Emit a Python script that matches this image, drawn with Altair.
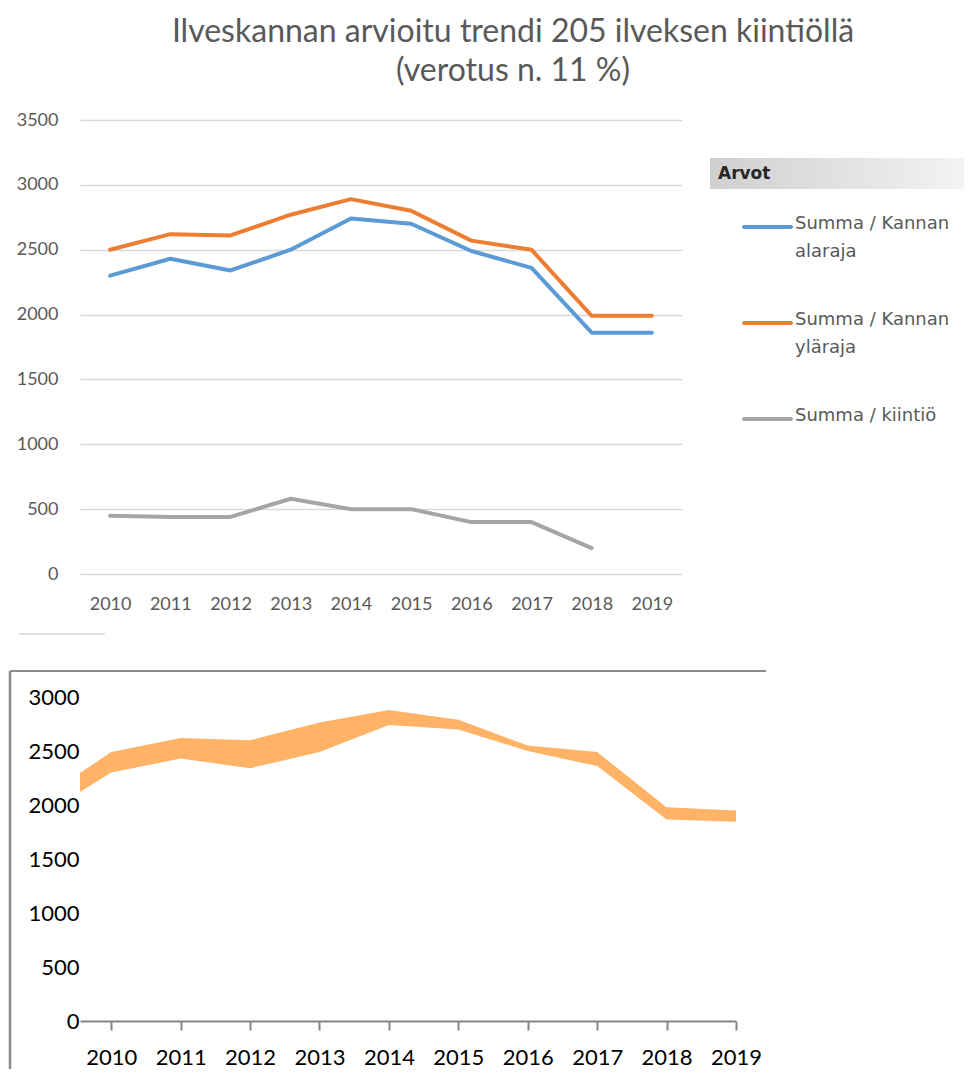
import altair as alt
import pandas as pd

# ---------------- data ----------------
years = [2010, 2011, 2012, 2013, 2014, 2015, 2016, 2017, 2018, 2019]
alaraja = [2300, 2430, 2340, 2500, 2740, 2700, 2490, 2360, 1860, 1860]
ylaraja = [2500, 2620, 2610, 2770, 2890, 2800, 2570, 2500, 1990, 1990]
kiintio = [450, 440, 440, 580, 500, 500, 400, 400, 200, None]

series_names = ["Summa / Kannan alaraja", "Summa / Kannan yläraja", "Summa / kiintiö"]
legend_labels = ["Summa / Kannan\nalaraja", "Summa / Kannan\nyläraja", "Summa / kiintiö"]
series_colors = ["#5B9BD5", "#ED7D31", "#A5A5A5"]

band_years = [2009, 2010, 2011, 2012, 2013, 2014, 2015, 2016, 2017, 2018, 2019]
band_upper = [2060, 2490, 2620, 2600, 2765, 2880, 2790, 2550, 2490, 1980, 1950]
band_lower = [1900, 2300, 2430, 2340, 2490, 2740, 2700, 2500, 2360, 1865, 1845]

title_lines = ["Ilveskannan arvioitu trendi 205 ilveksen kiintiöllä", "(verotus n. 11 %)"]
legend_title = "Arvot"

# ---------------- tables ----------------
rows = []
for name, vals in zip(series_names, [alaraja, ylaraja, kiintio]):
    for y, v in zip(years, vals):
        if v is not None:
            rows.append({"year": y, "series": name, "value": v})
lines_df = pd.DataFrame(rows)
legend_df = pd.DataFrame({"series": series_names, "label": legend_labels})
header_df = pd.DataFrame({"h": [legend_title]})
band_df = pd.DataFrame({"year": band_years, "upper": band_upper, "lower": band_lower})
one = pd.DataFrame({"k": [0]})

GRAY_TXT = "#595959"
color_scale = alt.Scale(domain=series_names, range=series_colors)
legend_y = alt.Scale(type="point", domain=series_names, range=[107, 299], padding=0)

# ---------------- top chart ----------------
lines = alt.Chart(lines_df).mark_line(strokeWidth=4, strokeCap="round", strokeJoin="round").encode(
    x=alt.X("year:O", scale=alt.Scale(type="point", padding=0.5, domain=years),
            axis=alt.Axis(title=None, labelAngle=0, domain=False, ticks=False, labelPadding=21,
                          labelColor=GRAY_TXT, labelFontSize=18, labelFont="Lato")),
    y=alt.Y("value:Q", scale=alt.Scale(domain=[0, 3500], nice=False),
            axis=alt.Axis(title=None, values=list(range(0, 3501, 500)), format="d", domain=False,
                          ticks=False, grid=True, gridColor="#D9D9D9", gridWidth=1.5, labelPadding=22,
                          labelColor=GRAY_TXT, labelFontSize=18, labelFont="Lato")),
    color=alt.Color("series:N", scale=color_scale, legend=None),
    order=alt.Order("year:O"),
)

legend_rules = alt.Chart(legend_df).mark_rule(strokeWidth=4, strokeCap="round").encode(
    x=alt.value(664), x2=alt.value(711),
    y=alt.Y("series:N", scale=legend_y, axis=None),
    color=alt.Color("series:N", scale=color_scale, legend=None),
)
legend_text = alt.Chart(legend_df).mark_text(
    align="left", baseline="top", lineBreak="\n", fontSize=18, lineHeight=28, dy=-12,
    color=GRAY_TXT, font="DejaVu Sans",
).encode(
    x=alt.value(715),
    y=alt.Y("series:N", scale=legend_y, axis=None),
    text="label:N",
)
header_bar = alt.Chart(header_df).mark_rect(
    fill=alt.Gradient(gradient="linear",
                      stops=[alt.GradientStop(color="#CFCFCF", offset=0),
                             alt.GradientStop(color="#F3F3F3", offset=1)],
                      x1=0, x2=1, y1=0, y2=0)
).encode(x=alt.value(630), x2=alt.value(884), y=alt.value(38), y2=alt.value(69))
header_text = alt.Chart(header_df).mark_text(
    align="left", baseline="middle", fontSize=17, fontWeight="bold", color="#262626", font="DejaVu Sans"
).encode(x=alt.value(638), y=alt.value(54), text="h:N")

small_line = alt.Chart(one).mark_rule(color="#D9D9D9", strokeWidth=1.5).encode(
    x=alt.value(-61), x2=alt.value(25), y=alt.value(514))
left_anchor = alt.Chart(one).mark_rule(opacity=0).encode(
    x=alt.value(-72), x2=alt.value(-71), y=alt.value(500))

top = alt.layer(
    lines, legend_rules, legend_text, header_bar, header_text, small_line, left_anchor
).resolve_scale(y="independent").properties(
    width=602, height=454,
    title=alt.TitleParams(text=title_lines, fontSize=32, font="Lato", fontWeight="normal",
                          color=GRAY_TXT, anchor="middle", frame="group", dx=132,
                          lineHeight=39, offset=23),
)

# ---------------- bottom chart ----------------
band = alt.Chart(band_df).mark_area(color="#FFB366", opacity=1, clip=True).encode(
    x=alt.X("year:Q", scale=alt.Scale(domain=[2009.55, 2019], nice=False, zero=False),
            axis=alt.Axis(title=None, values=years, format="d", grid=False, domain=True,
                          domainColor="#868686", domainWidth=2, ticks=True, tickColor="#868686",
                          tickWidth=2, tickSize=9, labelPadding=17, labelColor="black",
                          labelFontSize=22, labelFont="Lato", labelFlush=False)),
    y=alt.Y("upper:Q", scale=alt.Scale(domain=[0, 3000], nice=False),
            axis=alt.Axis(title=None, values=list(range(0, 3001, 500)), format="d", grid=False,
                          domain=False, ticks=False, labelPadding=1, labelColor="black",
                          labelFontSize=22, labelFont="Lato")),
    y2="lower:Q",
)
frame_top = alt.Chart(one).mark_rule(color="#8C8C8C", strokeWidth=2).encode(
    x=alt.value(-70), x2=alt.value(686), y=alt.value(-26))
frame_left = alt.Chart(one).mark_rule(color="#8C8C8C", strokeWidth=2.5).encode(
    x=alt.value(-70), y=alt.value(-26), y2=alt.value(372))

bottom = alt.layer(band, frame_top, frame_left).properties(width=656, height=324)

chart = alt.vconcat(top, bottom, spacing=34).properties(
    padding={"left": 0, "top": 8, "right": 0, "bottom": 0}
).configure_view(stroke=None)

chart.save("out.html", embed_options={"renderer": "svg", "actions": False})
